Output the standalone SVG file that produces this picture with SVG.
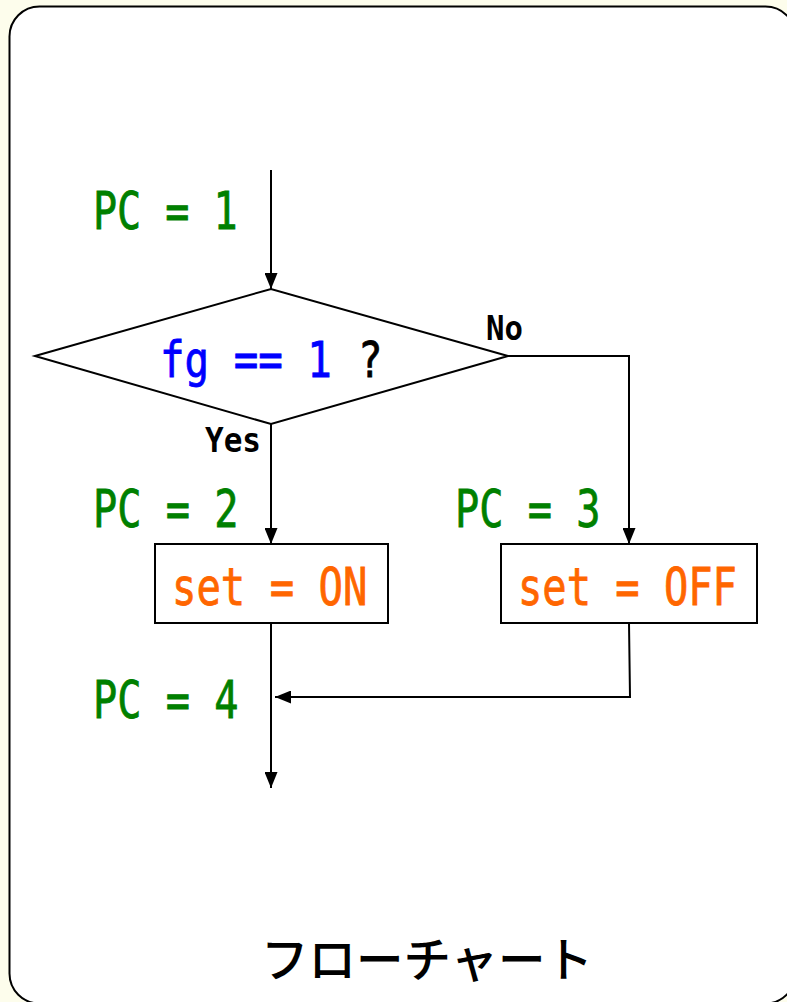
<svg xmlns="http://www.w3.org/2000/svg" width="787" height="1002" viewBox="0 0 787 1002">
<defs>
<style>
.mono{font-family:"DejaVu Sans Mono","Liberation Mono",monospace;}
.pc{font-size:52px;fill:#008000;stroke:#008000;stroke-width:0.8;}
.set{font-size:52px;fill:#ff6600;stroke:#ff6600;stroke-width:0.8;}
.q{font-size:50px;stroke-width:0.8;}
.lbl{font-size:33px;font-weight:bold;fill:#000;}
.shape{fill:#fff;stroke:#000;stroke-width:2;}
.conn{fill:none;stroke:#000;stroke-width:2;}
.title{font-family:"Noto Sans CJK JP","Noto Sans",sans-serif;font-size:47.5px;font-weight:500;fill:#000;}
</style>
<marker id="arr" viewBox="0 0 16 13" refX="16" refY="6.5" markerWidth="16" markerHeight="13" markerUnits="userSpaceOnUse" orient="auto">
<path d="M0,0 L16,6.5 L0,13 Z" fill="#000"/>
</marker>
</defs>
<rect x="0" y="0" width="787" height="1002" fill="#fdfdec"/>
<rect id="frame" x="9.5" y="6.5" width="786" height="997" rx="30" ry="30" fill="#fff" stroke="#000" stroke-width="2"/>

<g id="connectors">
<path class="conn" d="M271,170 L271,289" marker-end="url(#arr)"/>
<path class="conn" d="M508,356 L629,356 L629,544" marker-end="url(#arr)"/>
<path class="conn" d="M271,424 L271,544" marker-end="url(#arr)"/>
<path class="conn" d="M271,623 L271,788" marker-end="url(#arr)"/>
<path class="conn" d="M629,623 L630,697 L275,697" marker-end="url(#arr)"/>
</g>

<g id="decision">
<polygon class="shape" points="35,356 271,289 508,356 271,424"/>
<text class="mono q" transform="translate(160,377) scale(0.816,1)" fill="#0000ff" stroke="#0000ff">fg == 1</text>
<text class="mono q" transform="translate(358,377) scale(0.816,1)" fill="#000" stroke="#000">?</text>
</g>

<g id="box-on">
<rect class="shape" x="155" y="544" width="233" height="79"/>
<text class="mono set" transform="translate(172,605) scale(0.78,1)">set = ON</text>
</g>

<g id="box-off">
<rect class="shape" x="501" y="544" width="256" height="79"/>
<text class="mono set" transform="translate(518,605) scale(0.777,1)">set = OFF</text>
</g>

<g id="labels">
<text class="mono pc" transform="translate(93,229) scale(0.77,1)">PC = 1</text>
<text class="mono pc" transform="translate(93,527) scale(0.775,1)">PC = 2</text>
<text class="mono pc" transform="translate(455,527) scale(0.775,1)">PC = 3</text>
<text class="mono pc" transform="translate(93,718) scale(0.775,1)">PC = 4</text>
<text class="mono lbl" transform="translate(486,340) scale(0.93,1)">No</text>
<text class="mono lbl" transform="translate(205,452) scale(0.94,1)">Yes</text>
</g>

<g id="title">
<text class="title" x="261" y="977">フローチャート</text>
</g>
</svg>
